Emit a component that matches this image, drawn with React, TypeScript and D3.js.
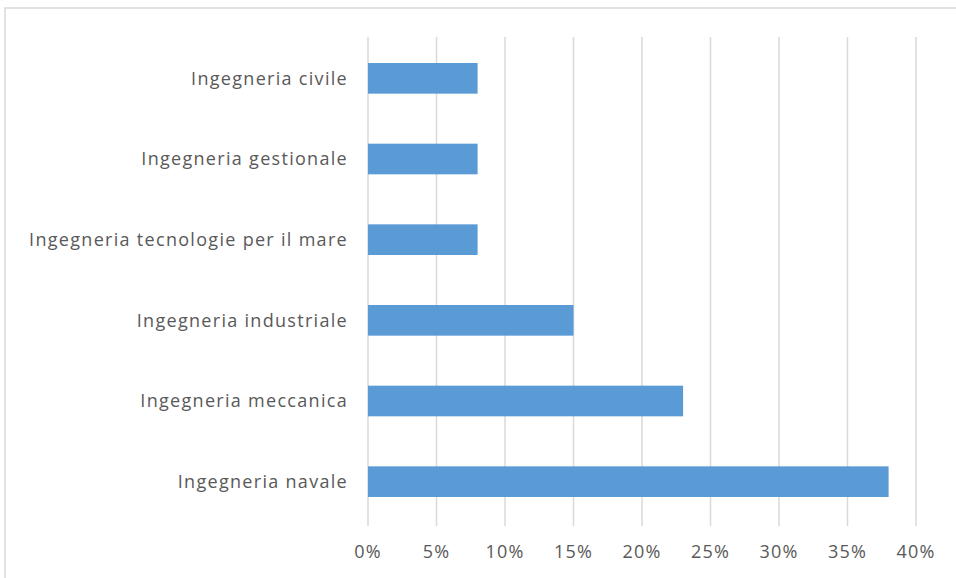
import React from "react";
import * as d3 from "d3";

const categories = [
  "Ingegneria civile",
  "Ingegneria gestionale",
  "Ingegneria tecnologie per il mare",
  "Ingegneria industriale",
  "Ingegneria meccanica",
  "Ingegneria navale",
];
const values = [0.08, 0.08, 0.08, 0.15, 0.23, 0.38];
const ticks = [0, 0.05, 0.1, 0.15, 0.2, 0.25, 0.3, 0.35, 0.4];

export default function App() {
  const W = 956, H = 578;
  const x = d3.scaleLinear().domain([0, 0.4]).range([368, 916]);
  const y = d3.scaleBand().domain(categories).range([38, 522]).paddingInner(0.62).paddingOuter(0.31);
  const fmt = d3.format(".0%");
  const font = "'Open Sans', 'Noto Sans', sans-serif";
  return (
    <svg width={W} height={H} style={{ position: "fixed", left: 0, top: 0, background: "#fff" }}>
      <rect x={5} y={8} width={W + 10} height={H + 10} fill="#fff" stroke="#d9d9d9" strokeWidth={1.5} />
      {ticks.map((t) => (
        <line key={t} x1={x(t)} x2={x(t)} y1={37} y2={526} stroke="#d9d9d9" strokeWidth={1.5} />
      ))}
      {categories.map((c, i) => (
        <rect key={c} x={x(0)} y={y(c)!} width={x(values[i]) - x(0)} height={y.bandwidth()} fill="#5b9bd5" />
      ))}
      {categories.map((c) => (
        <text key={c} x={348} y={y(c)! + y.bandwidth() / 2} dy="0.35em" textAnchor="end"
          fontFamily={font} fontSize={18} fill="#595959" letterSpacing={1.3}>{c}</text>
      ))}
      {ticks.map((t) => (
        <text key={t} x={x(t)} y={552} dy="0.35em" textAnchor="middle"
          fontFamily={font} fontSize={18} fill="#595959" letterSpacing={1.2}>{fmt(t)}</text>
      ))}
    </svg>
  );
}
